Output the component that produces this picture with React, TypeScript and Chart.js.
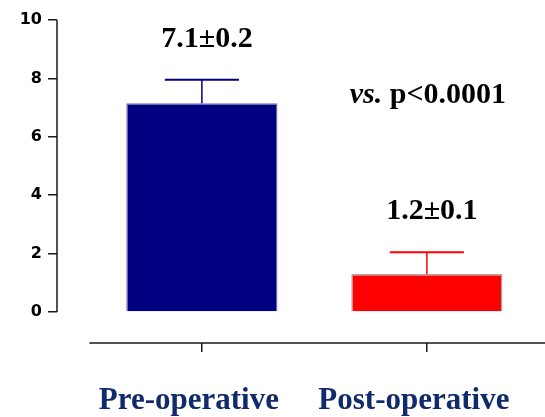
import React, { useEffect, useRef } from "react";
import { Chart, registerables } from "chart.js";

Chart.register(...registerables);

const categories = ["Pre-operative", "Post-operative"];
const means = [7.15, 1.3];
const errorTops = [7.95, 2.05];
const valueLabels = ["7.1±0.2", "1.2±0.1"];
const yTicks = [0, 2, 4, 6, 8, 10];
const barColors = ["#000080", "#ff0000"];
const barBorders = ["#6a6ab4", "#a8a8a8"];
const errColors = ["#000080", "#ff0000"];
const pItalic = "vs.";
const pText = " p<0.0001";

const SERIF = "'Liberation Serif', 'Times New Roman', serif";

const overlayPlugin = {
  id: "overlay",
  afterDatasetsDraw(chart: any) {
    const { ctx, chartArea, scales } = chart;
    const x = scales.x;
    const y = scales.y;
    ctx.save();
    // axes lines
    ctx.strokeStyle = "#1a1a1a";
    ctx.lineWidth = 1.5;
    ctx.beginPath();
    ctx.moveTo(chartArea.left, y.getPixelForValue(yTicks[0]));
    ctx.lineTo(chartArea.left, y.getPixelForValue(yTicks[yTicks.length - 1]));
    ctx.stroke();
    ctx.beginPath();
    ctx.moveTo(x.getPixelForValue(0.5), chartArea.bottom);
    ctx.lineTo(chartArea.right, chartArea.bottom);
    ctx.stroke();

    // error bars
    const meta = chart.getDatasetMeta(0);
    meta.data.forEach((bar: any, i: number) => {
      const cx = bar.x;
      const top = y.getPixelForValue(errorTops[i]);
      const half = bar.width * 0.245;
      ctx.strokeStyle = errColors[i];
      ctx.lineWidth = 1.5;
      ctx.beginPath();
      ctx.moveTo(cx, bar.y);
      ctx.lineTo(cx, top);
      ctx.stroke();
      ctx.lineWidth = 2;
      ctx.beginPath();
      ctx.moveTo(cx - half, top);
      ctx.lineTo(cx + half, top);
      ctx.stroke();

      // value labels
      ctx.fillStyle = "#000";
      ctx.font = `bold 30px ${SERIF}`;
      ctx.textAlign = "center";
      ctx.textBaseline = "alphabetic";
      ctx.fillText(valueLabels[i], cx + 5, top - 33);
    });

    // p-value annotation
    const b1 = meta.data[1];
    ctx.font = `italic bold 30px ${SERIF}`;
    const w1 = ctx.measureText(pItalic).width;
    ctx.font = `bold 30px ${SERIF}`;
    const w2 = ctx.measureText(pText).width;
    const cx = b1.x + 1;
    const base = y.getPixelForValue(errorTops[0]) + 23;
    const start = cx - (w1 + w2) / 2;
    ctx.textAlign = "left";
    ctx.font = `italic bold 30px ${SERIF}`;
    ctx.fillText(pItalic, start, base);
    ctx.font = `bold 30px ${SERIF}`;
    ctx.fillText(pText, start + w1, base);
    ctx.restore();
  },
};

export default function App() {
  const ref = useRef<HTMLCanvasElement | null>(null);
  useEffect(() => {
    if (!ref.current) return;
    const chart = new Chart(ref.current, {
      type: "bar",
      data: {
        datasets: [
          {
            data: means.map((v, i) => ({ x: i + 1, y: v })),
            backgroundColor: barColors,
            borderColor: barBorders,
            borderWidth: 1.5,
            categoryPercentage: 1,
            barPercentage: 0.672,
          },
        ],
      },
      options: {
        responsive: false,
        animation: false,
        devicePixelRatio: 1,
        layout: { padding: { top: 20, left: 0, right: 0, bottom: 0 } },
        plugins: { legend: { display: false }, tooltip: { enabled: false } },
        scales: {
          x: {
            type: "linear",
            offset: false,
            min: 0.356,
            max: 2.525,
            afterBuildTicks: (s: any) => {
              s.ticks = categories.map((_, i) => ({ value: i + 1 }));
            },
            afterFit: (s: any) => {
              s.height = 74;
              s.paddingLeft = 0;
              s.paddingRight = 0;
            },
            border: { display: false },
            grid: {
              offset: false,
              drawOnChartArea: false,
              drawTicks: true,
              tickLength: 9,
              color: "#1a1a1a",
              lineWidth: 1.5,
            },
            ticks: {
              callback: (v: any) => categories[Math.round(v) - 1] ?? "",
              font: { family: SERIF, size: 31, weight: "bold" },
              color: "#102a6b",
              labelOffset: -13,
              padding: 30,
              maxRotation: 0,
              autoSkip: false,
            },
          },
          y: {
            min: -1.06,
            max: 10,
            afterBuildTicks: (s: any) => {
              s.ticks = yTicks.map((v) => ({ value: v }));
            },
            afterFit: (s: any) => {
              s.width = 57;
            },
            border: { display: false },
            grid: {
              drawOnChartArea: false,
              drawTicks: true,
              tickLength: 9,
              color: "#1a1a1a",
              lineWidth: 1.5,
            },
            ticks: {
              font: { family: "'DejaVu Sans', sans-serif", size: 16, weight: "bold" },
              color: "#000",
              padding: 6,
            },
          },
        },
      },
      plugins: [overlayPlugin],
    } as any);
    return () => chart.destroy();
  }, []);
  return (
    <div style={{ position: "absolute", left: 0, top: 0, width: 545, height: 417, background: "#fff" }}>
      <canvas ref={ref} width={545} height={417} />
    </div>
  );
}
